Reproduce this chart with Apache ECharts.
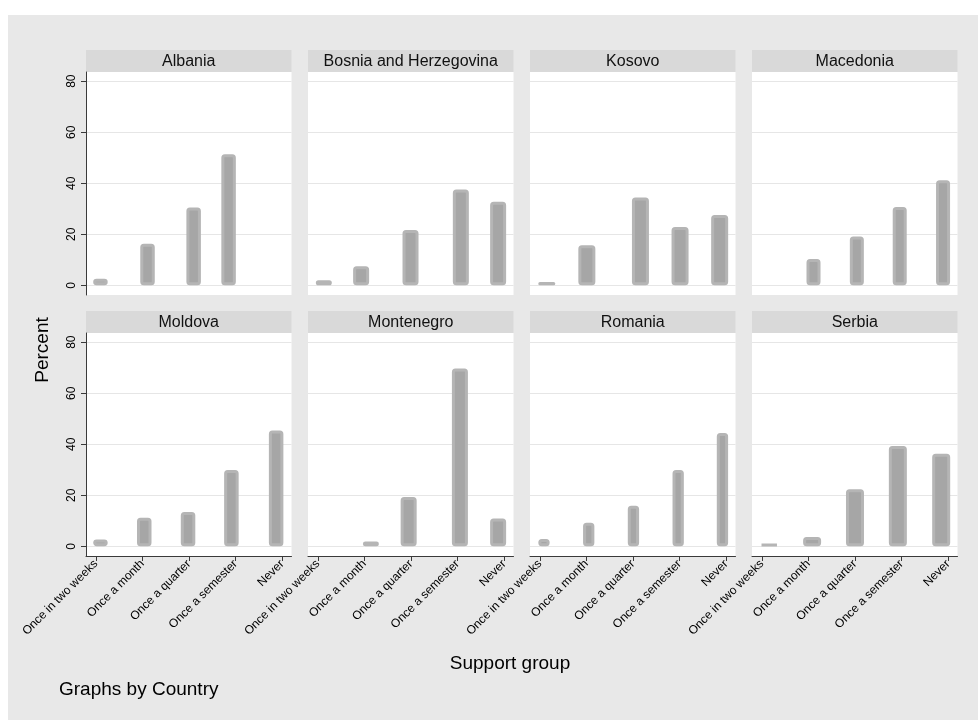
<!DOCTYPE html>
<html>
<head>
<meta charset="utf-8">
<script src="https://cdn.jsdelivr.net/npm/echarts@6/dist/echarts.min.js"></script>
<style>
html,body{margin:0;padding:0;background:#fff;}
#chart{width:978px;height:720px;}
</style>
</head>
<body>
<div id="chart"></div>
<script>
// ---- data ----
const categories = ['Once in two weeks', 'Once a month', 'Once a quarter', 'Once a semester', 'Never'];
const countries = ['Albania', 'Bosnia and Herzegovina', 'Kosovo', 'Macedonia', 'Moldova', 'Montenegro', 'Romania', 'Serbia'];
const xTicks = [1, 2, 3, 4, 5];
const yTicks = [0, 20, 40, 60, 80];

// bin midpoints (x) and percent (y) per country
const albaniaX = [1.10, 2.11, 3.10, 3.85];
const albaniaY = [2.6, 16.3, 30.5, 51.4];
const bosniaX = [1.13, 1.93, 2.99, 4.07, 4.87];
const bosniaY = [2.0, 7.5, 21.7, 37.5, 32.7];
const kosovoX = [1.15, 2.01, 3.16, 4.01, 4.86];
const kosovoY = [1.3, 15.7, 34.4, 22.9, 27.6];
const macedoniaX = [2.11, 3.04, 3.96, 4.89];
const macedoniaY = [10.3, 19.1, 30.7, 41.2];
const moldovaX = [1.10, 2.04, 2.98, 3.91, 4.87];
const moldovaY = [2.7, 11.2, 13.4, 29.9, 45.4];
const montenegroX = [2.14, 2.95, 4.05, 4.87];
const montenegroY = [1.9, 19.3, 69.7, 10.9];
const romaniaX = [1.09, 2.05, 3.01, 3.97, 4.92];
const romaniaY = [2.9, 9.2, 15.9, 29.9, 44.4];
const serbiaX = [1.16, 2.08, 3.00, 3.92, 4.85];
const serbiaY = [1.0, 3.6, 22.4, 39.3, 36.3];

const seriesX = [albaniaX, bosniaX, kosovoX, macedoniaX, moldovaX, montenegroX, romaniaX, serbiaX];
const seriesY = [albaniaY, bosniaY, kosovoY, macedoniaY, moldovaY, montenegroY, romaniaY, serbiaY];

// ---- styles / layout ----
const barWidthPx = [14.5, 16, 17, 14, 14.5, 16, 11.3, 18];
const FONT = 'Liberation Sans, Arial, sans-serif';
const colLeft = [86, 308, 530, 752];
const rowTop = [72, 333];
const plotW = 205.5, plotH = 223;
const headerH = 22;

const chart = echarts.init(document.getElementById('chart'), null, {renderer: 'canvas'});

const grid = [], xAxis = [], yAxis = [], series = [], graphics = [];

graphics.push({type: 'rect', shape: {x: 8, y: 15, width: 970, height: 705}, style: {fill: '#e8e8e8'}, z: -10, silent: true});

countries.forEach((name, i) => {
  const col = i % 4, row = Math.floor(i / 4);
  const left = colLeft[col], top = rowTop[row];
  grid.push({left: left, top: top, width: plotW, height: plotH, show: true, backgroundColor: '#ffffff', borderWidth: 0, containLabel: false});
  xAxis.push({
    type: 'value', gridIndex: i, min: 0.79, max: 5.2,
    axisLine: {show: row === 1, onZero: false, lineStyle: {color: '#3a3a3a', width: 1}},
    axisTick: {show: row === 1, customValues: xTicks, length: 5, lineStyle: {color: '#3a3a3a'}},
    axisLabel: {show: row === 1, customValues: xTicks, rotate: 45, margin: 6, fontSize: 12, fontFamily: FONT, color: '#000',
      formatter: v => categories[Math.round(v) - 1]},
    splitLine: {show: false}
  });
  yAxis.push({
    type: 'value', gridIndex: i, min: -3.8, max: 83.6,
    axisLine: {show: col === 0, onZero: false, lineStyle: {color: '#3a3a3a', width: 1}},
    axisTick: {show: col === 0, customValues: yTicks, length: 5, lineStyle: {color: '#3a3a3a'}},
    axisLabel: {show: col === 0, customValues: yTicks, rotate: 90, margin: 8, fontSize: 12, fontFamily: FONT, color: '#000'},
    splitLine: {show: true, lineStyle: {color: '#e6e6e6', width: 1}}
  });
  series.push({
    type: 'bar', name: name, xAxisIndex: i, yAxisIndex: i,
    barWidth: barWidthPx[i],
    data: seriesX[i].map((x, k) => [x, seriesY[i][k]]),
    itemStyle: {color: '#a6a6a6', borderColor: '#b5b5b5', borderWidth: 3, borderRadius: 2},
    emphasis: {disabled: true}, silent: true
  });
  // panel header strip + title
  graphics.push({type: 'rect', shape: {x: left, y: top - headerH, width: plotW, height: headerH}, style: {fill: '#d9d9d9'}, silent: true});
  graphics.push({type: 'text', x: left + plotW / 2, y: top - headerH / 2 + 1,
    style: {text: name, fill: '#111', font: 'normal 400 16px ' + FONT, align: 'center', verticalAlign: 'middle'}, silent: true});
});

graphics.push({type: 'text', x: 43, y: 350, rotation: Math.PI / 2,
  style: {text: 'Percent', fill: '#000', font: '19px ' + FONT, align: 'center', verticalAlign: 'middle'}, silent: true});
graphics.push({type: 'text', x: 510, y: 664,
  style: {text: 'Support group', fill: '#000', font: '19px ' + FONT, align: 'center', verticalAlign: 'middle'}, silent: true});
graphics.push({type: 'text', x: 59, y: 690,
  style: {text: 'Graphs by Country', fill: '#000', font: '19px ' + FONT, align: 'left', verticalAlign: 'middle'}, silent: true});

chart.setOption({
  animation: false,
  backgroundColor: '#ffffff',
  grid: grid, xAxis: xAxis, yAxis: yAxis, series: series,
  graphic: graphics
});
</script>
</body>
</html>
